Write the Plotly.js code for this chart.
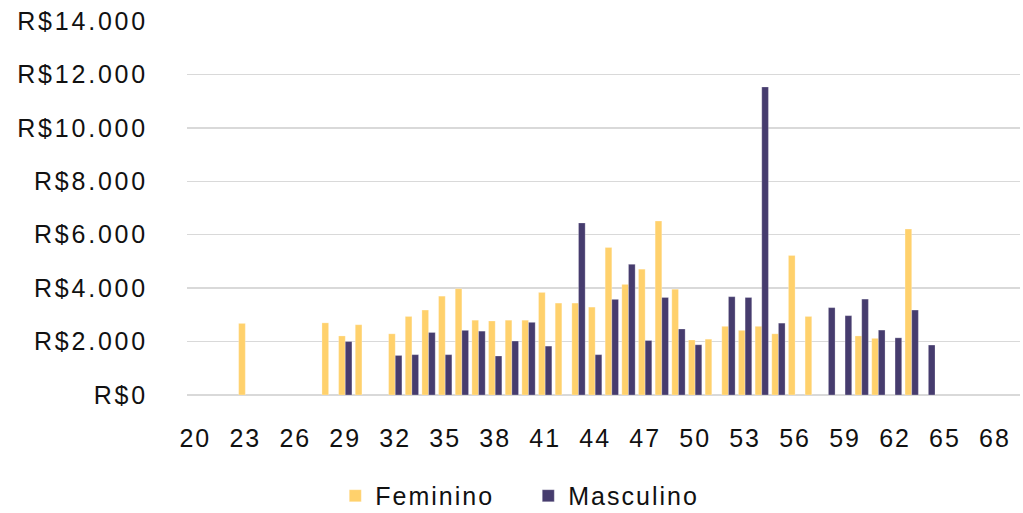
<!DOCTYPE html>
<html>
<head>
<meta charset="utf-8">
<script src="https://cdn.plot.ly/plotly-3.0.1.min.js"></script>
<style>
  html, body { margin: 0; padding: 0; background: #fff; }
  #chart { width: 1023px; height: 513px; }
  .xtick text, .legendtext { letter-spacing: 2px; }
  .ytick text { letter-spacing: 2.8px; }
</style>
</head>
<body>
<div id="chart"></div>
<script>
// Ages (x) and average values (R$)
const femAges = [23, 28, 29, 30, 32, 33, 34, 35, 36, 37, 38, 39, 40, 41, 42, 43, 44, 45, 46, 47, 48, 49, 50, 51, 52, 53, 54, 55, 56, 57, 60, 61, 63];
const femValues = [2680, 2700, 2210, 2630, 2290, 2940, 3180, 3700, 3980, 2800, 2770, 2800, 2800, 3840, 3440, 3440, 3290, 5520, 4140, 4710, 6510, 3960, 2060, 2090, 2570, 2420, 2570, 2290, 5220, 2940, 2210, 2120, 6210];

const mascAges = [29, 32, 33, 34, 35, 36, 37, 38, 39, 40, 41, 43, 44, 45, 46, 47, 48, 49, 50, 52, 53, 54, 55, 58, 59, 60, 61, 62, 63, 64];
const mascValues = [2000, 1480, 1510, 2340, 1510, 2420, 2390, 1460, 2020, 2720, 1830, 6440, 1510, 3580, 4890, 2040, 3650, 2470, 1880, 3680, 3650, 11530, 2690, 3270, 2970, 3590, 2430, 2140, 3180, 1870];

const xTicks = [20, 23, 26, 29, 32, 35, 38, 41, 44, 47, 50, 53, 56, 59, 62, 65, 68];
const yTicks = [0, 2000, 4000, 6000, 8000, 10000, 12000, 14000];
const yTickLabels = ["R$0", "R$2.000", "R$4.000", "R$6.000", "R$8.000", "R$10.000", "R$12.000", "R$14.000"];

const font = "Liberation Sans, Arial, sans-serif";

const traces = [
  {
    type: "bar", name: "Feminino", x: femAges, y: femValues,
    marker: { color: "#FFD16C", line: { color: "rgba(255,255,255,0.5)", width: 0.5 } }
  },
  {
    type: "bar", name: "Masculino", x: mascAges, y: mascValues,
    marker: { color: "#463C6E", line: { color: "rgba(255,255,255,0.5)", width: 0.5 } }
  }
];

const layout = {
  width: 1023, height: 513,
  margin: { l: 187, r: 3, t: 21, b: 118, autoexpand: false },
  paper_bgcolor: "#fff", plot_bgcolor: "#fff",
  barmode: "group", bargap: 0.2, bargroupgap: 0,
  font: { family: font, size: 25, color: "#111" },
  xaxis: {
    type: "linear", range: [19.5, 69.5],
    tickvals: xTicks, ticktext: xTicks.map(String),
    showgrid: false, zeroline: false, showline: false,
    ticks: "", ticklabelstandoff: 26,
    tickfont: { family: font, size: 25, color: "#111" }
  },
  yaxis: {
    range: [0, 14000],
    tickvals: yTicks, ticktext: yTickLabels,
    showgrid: true, gridcolor: "#d9d9d9", gridwidth: 1.5,
    zeroline: true, zerolinecolor: "#d9d9d9", zerolinewidth: 1.5,
    showline: false, ticks: "",
    ticklabelstandoff: 38,
    tickfont: { family: font, size: 25, color: "#111" }
  },
  showlegend: true,
  legend: {
    orientation: "h", x: 0.178, xanchor: "left", y: -0.27, yanchor: "middle",
    entrywidth: 148,
    font: { family: font, size: 25, color: "#111" },
    bgcolor: "rgba(0,0,0,0)"
  }
};

Plotly.newPlot("chart", traces, layout, { staticPlot: true, displayModeBar: false });
</script>
</body>
</html>
